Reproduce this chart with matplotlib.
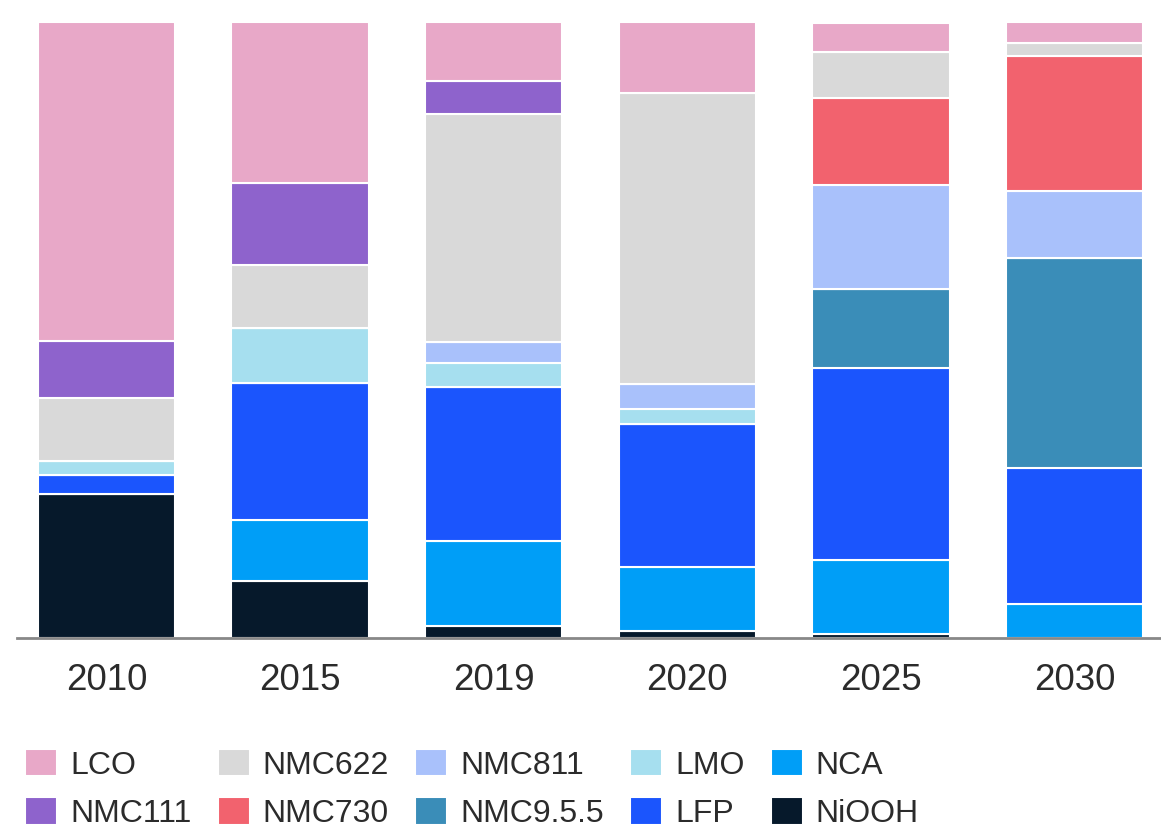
import numpy as np
import matplotlib
matplotlib.use("Agg")
import matplotlib.pyplot as plt

plt.rcParams['font.family'] = ['Liberation Sans', 'DejaVu Sans']

years = ["2010", "2015", "2019", "2020", "2025", "2030"]

# share of each chemistry per year (%), stacked bottom -> top
NiOOH   = [23.3,  9.2,  2.0,  1.2,  0.7,  0.0]
NCA     = [ 0.0,  9.9, 13.8, 10.3, 11.9,  5.6]
LFP     = [ 3.1, 22.3, 24.9, 23.3, 31.3, 22.0]
NMC955  = [ 0.0,  0.0,  0.0,  0.0, 12.7, 34.1]
LMO     = [ 2.4,  9.0,  3.9,  2.4,  0.0,  0.0]
NMC811  = [ 0.0,  0.0,  3.4,  4.1, 17.0, 10.9]
NMC730  = [ 0.0,  0.0,  0.0,  0.0, 14.0, 21.8]
NMC622  = [10.2, 10.1, 37.1, 47.2,  7.6,  2.2]
NMC111  = [ 9.2, 13.4,  5.3,  0.0,  0.0,  0.0]
LCO     = [51.8, 26.1,  9.6, 11.5,  4.7,  3.4]

stack = [
    ("NiOOH", NiOOH, "#06192B"),
    ("NCA", NCA, "#009EF7"),
    ("LFP", LFP, "#1B55FD"),
    ("NMC9.5.5", NMC955, "#3A8DB8"),
    ("LMO", LMO, "#A6DFEF"),
    ("NMC811", NMC811, "#A9C1FB"),
    ("NMC730", NMC730, "#F2626E"),
    ("NMC622", NMC622, "#D9D9D9"),
    ("NMC111", NMC111, "#8E63CC"),
    ("LCO", LCO, "#E8A8C8"),
]
legend_order = ["LCO", "NMC111", "NMC622", "NMC730", "NMC811",
                "NMC9.5.5", "LMO", "LFP", "NCA", "NiOOH"]

fig = plt.figure(figsize=(11.61, 8.31), dpi=100)
ax = fig.add_axes([17 / 1161, 1 - 638 / 831, 1144 / 1161, 616 / 831])

x = np.arange(len(years))
bottom = np.zeros(len(years))
handles = {}
for name, vals, col in stack:
    vals = np.array(vals)
    b = ax.bar(x, vals, 0.71, bottom=bottom, color=col,
               edgecolor="white", linewidth=1.5, label=name)
    handles[name] = b
    bottom += vals

ax.set_xlim(-0.462, 5.447)
ax.set_ylim(0, 100)
ax.set_xticks(x)
ax.set_xticklabels(years, fontsize=26.5, color="#2b2b2b")
ax.tick_params(axis="x", length=0, pad=18)
ax.set_yticks([])
for s in ["top", "right", "left"]:
    ax.spines[s].set_visible(False)
ax.spines["bottom"].set_color("#888888")
ax.spines["bottom"].set_linewidth(2)

fig.legend([handles[n] for n in legend_order], legend_order,
           loc="upper left", bbox_to_anchor=(25 / 1161, 1 - 749 / 831),
           ncol=5, frameon=False, fontsize=23, handlelength=1.0,
           handleheight=0.94, handletextpad=0.41, columnspacing=0.82,
           labelspacing=0.52, borderpad=0, borderaxespad=0,
           labelcolor="#2b2b2b")

fig.savefig("out.png", dpi=100)
